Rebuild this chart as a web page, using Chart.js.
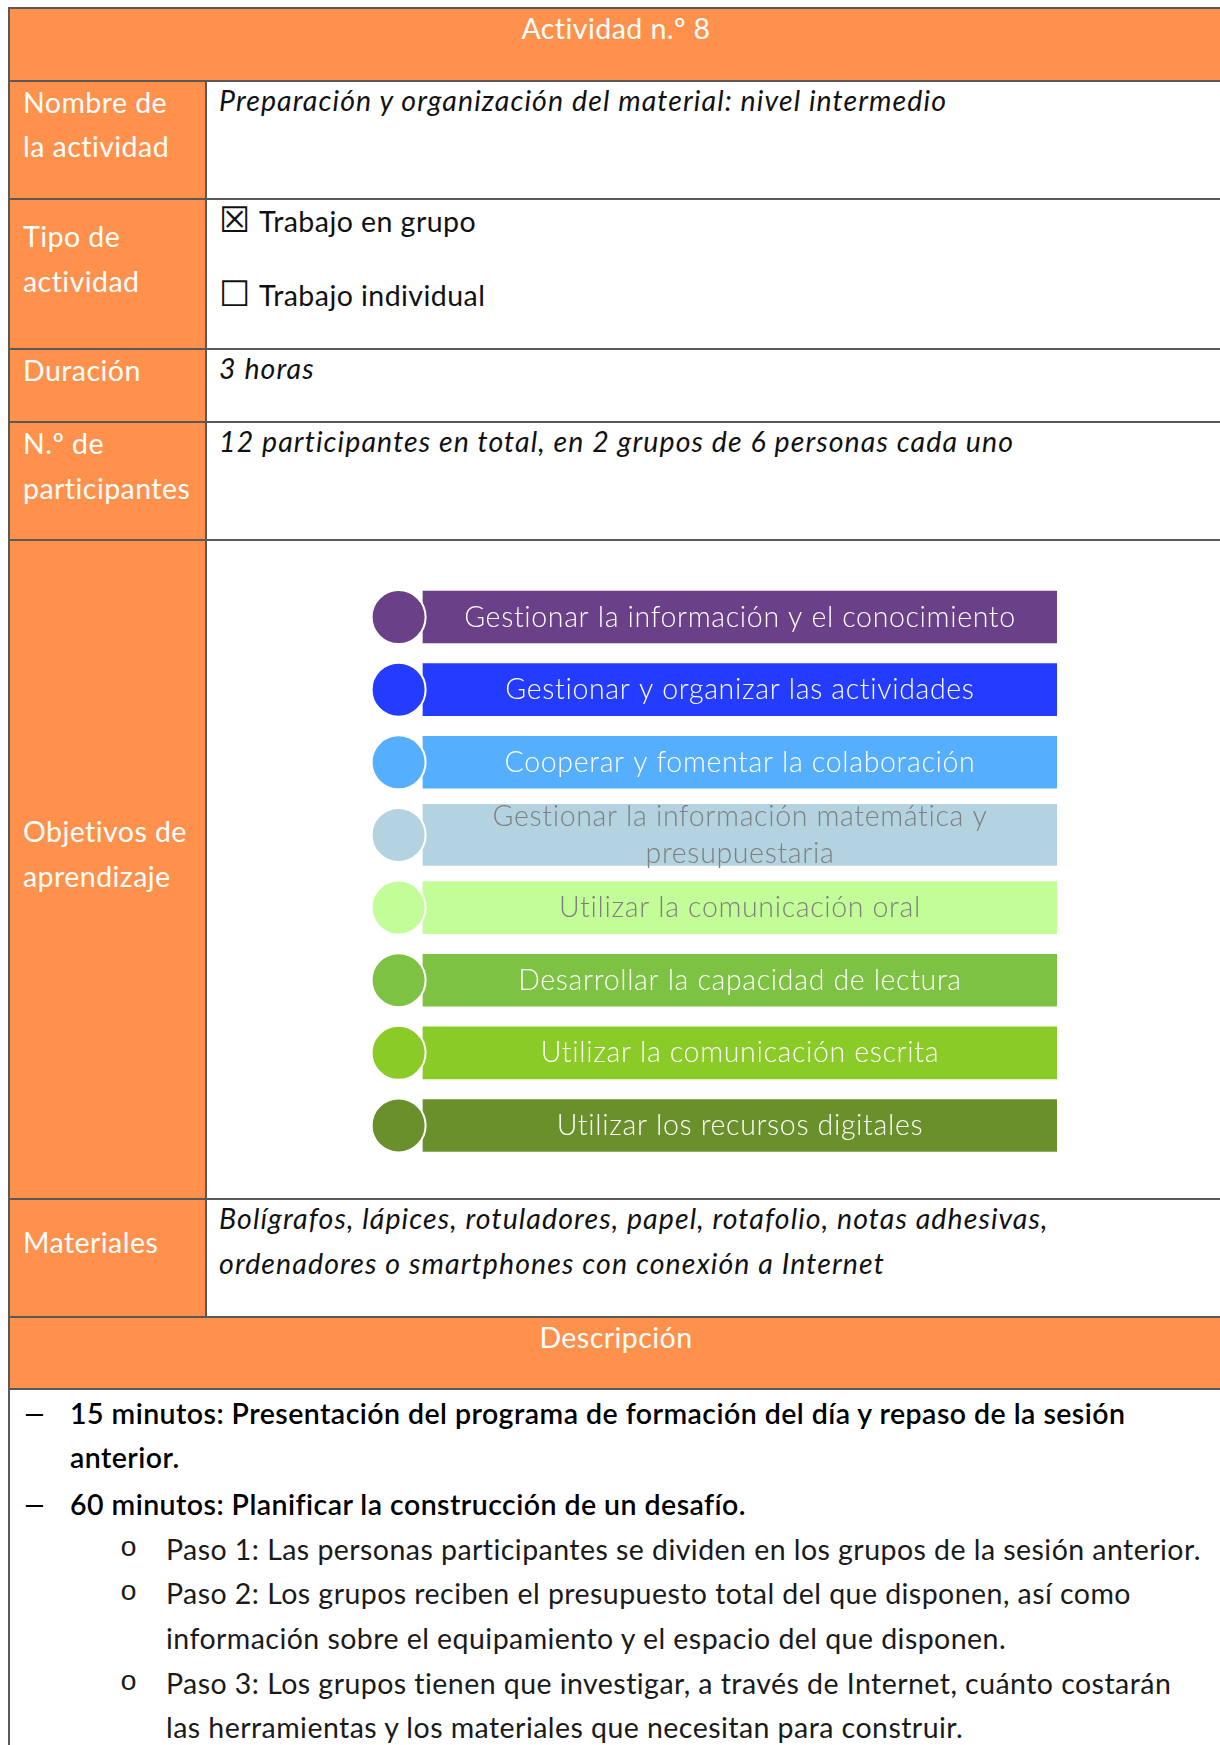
<!DOCTYPE html>
<html lang="es">
<head>
<meta charset="utf-8">
<title>Actividad n.º 8</title>
<script src="https://cdn.jsdelivr.net/npm/chart.js@4.4.0/dist/chart.umd.min.js"></script>
<style>
html,body{margin:0;padding:0;background:#fff;}
body{width:1220px;height:1745px;overflow:hidden;position:relative;font-family:Lato,'Open Sans',sans-serif;font-size:28.5px;letter-spacing:0.45px;line-height:44.6px;color:#111;}
.row{position:absolute;left:8px;width:1214px;border-top:2px solid #595959;border-left:2px solid #595959;box-sizing:border-box;}
.lab{position:absolute;left:0;top:0;bottom:0;width:197px;background:#FF914D;border-right:2px solid #595959;box-sizing:border-box;color:#fff;padding:0 0 31px 13px;display:flex;align-items:center;}
.val{position:absolute;left:197px;right:0;top:0;padding-left:12px;margin-top:-4px;font-style:italic;letter-spacing:1.1px;white-space:nowrap;}
.head{background:#FF914D;color:#fff;text-align:center;}
.head div{margin-top:-3px;}
.val.chk{font-style:normal;letter-spacing:0.45px;margin-top:-1px;}
.box{font-family:'DejaVu Sans',sans-serif;font-size:35px;line-height:0;display:inline-block;width:40px;letter-spacing:0;}
.desc{margin-top:0.5px;white-space:nowrap;}
.l1{position:relative;padding-left:60px;font-weight:600;color:#000;}
.l1 .b{position:absolute;left:12px;top:0;font-weight:400;display:inline-block;transform:scaleX(1.5);transform-origin:left center;}
.l2{position:relative;padding-left:156px;color:#1a1a1a;}
.l2 .b{position:absolute;left:110px;font-family:'Liberation Mono',monospace;letter-spacing:0;}
#wrap{position:absolute;left:207px;top:541px;width:1013px;height:657px;}
</style>
</head>
<body>
<div class="row head" style="top:7px;height:72.5px;"><div>Actividad n.º 8</div></div>

<div class="row" style="top:79.5px;height:118.5px;">
  <div class="lab"><div>Nombre de<br>la actividad</div></div>
  <div class="val">Preparación y organización del material: nivel intermedio</div>
</div>

<div class="row" style="top:198px;height:150px;">
  <div class="lab"><div>Tipo de<br>actividad</div></div>
  <div class="val chk">
    <div><span class="box">☒</span>Trabajo en grupo</div>
    <div style="margin-top:29px;"><span class="box">☐</span>Trabajo individual</div>
  </div>
</div>

<div class="row" style="top:348px;height:73px;">
  <div class="lab"><div>Duración</div></div>
  <div class="val">3 horas</div>
</div>

<div class="row" style="top:421px;height:118px;">
  <div class="lab"><div>N.º de<br>participantes</div></div>
  <div class="val">12 participantes en total, en 2 grupos de 6 personas cada uno</div>
</div>

<div class="row" style="top:539px;height:659px;">
  <div class="lab"><div>Objetivos de<br>aprendizaje</div></div>
</div>

<div class="row" style="top:1198px;height:118px;">
  <div class="lab"><div>Materiales</div></div>
  <div class="val">Bolígrafos, lápices, rotuladores, papel, rotafolio, notas adhesivas,<br>ordenadores o smartphones con conexión a Internet</div>
</div>

<div class="row head" style="top:1316px;height:72px;"><div>Descripción</div></div>

<div class="row" style="top:1388px;height:400px;">
  <div class="desc">
    <div class="l1"><span class="b">–</span>15 minutos: Presentación del programa de formación del día y repaso de la sesión<br>anterior.</div>
    <div class="l1" style="margin-top:2.5px;"><span class="b">–</span>60 minutos: Planificar la construcción de un desafío.</div>
    <div class="l2"><span class="b">o</span>Paso 1: Las personas participantes se dividen en los grupos de la sesión anterior.</div>
    <div class="l2"><span class="b">o</span>Paso 2: Los grupos reciben el presupuesto total del que disponen, así como<br>información sobre el equipamiento y el espacio del que disponen.</div>
    <div class="l2"><span class="b">o</span>Paso 3: Los grupos tienen que investigar, a través de Internet, cuánto costarán<br>las herramientas y los materiales que necesitan para construir.</div>
  </div>
</div>

<div id="wrap"><canvas id="c" width="1013" height="657"></canvas></div>

<script>
// ---- data ----
const objectives = [
  'Gestionar la información y el conocimiento',
  'Gestionar y organizar las actividades',
  'Cooperar y fomentar la colaboración',
  ['Gestionar la información matemática y', 'presupuestaria'],
  'Utilizar la comunicación oral',
  'Desarrollar la capacidad de lectura',
  'Utilizar la comunicación escrita',
  'Utilizar los recursos digitales'
];
const objectiveValues = [100, 100, 100, 100, 100, 100, 100, 100];
const objectiveColors = ['#6A4089', '#243CFF', '#56AEFF', '#B2D3DF', '#C2FD98', '#7DC242', '#8ACB27', '#6A902B'];
const labelColors = ['#FFFFFF', '#FFFFFF', '#FFFFFF', '#7F7F7F', '#7F7F7F', '#FFFFFF', '#FFFFFF', '#FFFFFF'];

// ---- style constants ----
const BAR_START = 3.7;
const wrapped = objectives.map(l => Array.isArray(l));

const barLabels = {
  id: 'barLabels',
  afterDatasetsDraw(chart) {
    const {ctx, scales: {x, y}} = chart;
    ctx.save();
    ctx.font = '300 28.5px Lato';
    if ('letterSpacing' in ctx) ctx.letterSpacing = '0.65px';
    ctx.textAlign = 'center';
    ctx.textBaseline = 'alphabetic';
    objectives.forEach((lab, i) => {
      const cx = (x.getPixelForValue(BAR_START) + x.getPixelForValue(objectiveValues[i])) / 2;
      const cy = y.getPixelForValue(i);
      const lines = Array.isArray(lab) ? lab : [lab];
      ctx.fillStyle = labelColors[i];
      lines.forEach((t, k) => {
        ctx.fillText(t, cx, cy + 9.5 + (k - (lines.length - 1) / 2) * 37);
      });
    });
    ctx.restore();
  }
};

new Chart(document.getElementById('c'), {
  type: 'bar',
  data: {
    labels: objectives,
    datasets: [
      {
        type: 'line', indexAxis: 'y',
        data: objectives.map(() => 0),
        showLine: false,
        pointRadius: 27, pointHoverRadius: 27,
        pointBorderWidth: 2, pointBorderColor: '#FFFFFF',
        pointBackgroundColor: objectiveColors,
        clip: false, order: 0
      },
      {
        type: 'bar', indexAxis: 'y',
        data: objectiveValues.map((v, i) => wrapped[i] ? null : [BAR_START, v]),
        backgroundColor: objectiveColors,
        barThickness: 52, grouped: false, borderWidth: 0, order: 1
      },
      {
        type: 'bar', indexAxis: 'y',
        data: objectiveValues.map((v, i) => wrapped[i] ? [BAR_START, v] : null),
        backgroundColor: objectiveColors,
        barThickness: 61, grouped: false, borderWidth: 0, order: 1
      }
    ]
  },
  options: {
    indexAxis: 'y',
    responsive: false,
    animation: false,
    devicePixelRatio: 1,
    layout: {padding: {left: 191.6, right: 163, top: 39.7, bottom: 36.2}},
    plugins: {legend: {display: false}, tooltip: {enabled: false}},
    scales: {
      x: {type: 'linear', min: 0, max: 100, display: false},
      y: {type: 'category', display: false, offset: true}
    }
  },
  plugins: [barLabels]
});
</script>
</body>
</html>
